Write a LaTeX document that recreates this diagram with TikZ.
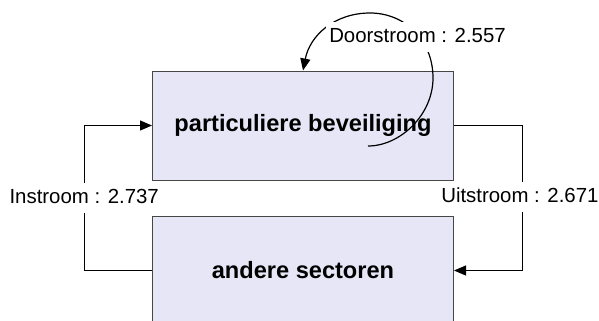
\documentclass[tikz,border=0pt]{standalone}
\usepackage{fontspec}
\setmainfont{Liberation Sans}
\usetikzlibrary{arrows.meta}
\definecolor{boxfill}{RGB}{230,230,246}
\definecolor{boxline}{RGB}{70,70,70}

\begin{document}
\begin{tikzpicture}
        [x=1bp, y=-1bp,
         sector/.style={rectangle, draw=boxline, fill=boxfill, line width=1bp,
                        minimum width=301bp, minimum height=109bp,
                        font=\fontsize{23.6bp}{28bp}\selectfont\bfseries},
         flow/.style={line width=1.2bp, -{Triangle[length=12bp, width=10bp]}},
         flowlabel/.style={fill=white, inner xsep=3bp, inner ysep=5bp,
                        text height=15bp, text depth=5bp,
                        font=\fontsize{20.4bp}{24bp}\selectfont}]
        \path[use as bounding box, clip] (0,0) rectangle (599,320);

        \node[sector] (pb) at (303,125.5) {particuliere beveiliging};
        \node[sector] (sec) at (303,270.5) {andere sectoren};
        \coordinate (ls) at (368,146);

        \draw[flow] (sec.west) -- ++(-67.5,0) |- (pb.west);
        \draw[flow] (pb.east) -- ++(68.5,0) |- (sec.east);
        \draw[flow] (ls) .. controls (400,146) and (433,115) .. (433,78)
                         .. controls (433,40) and (405,13) .. (370,13)
                         .. controls (335,13) and (310,35) .. (pb.north);

        \node[flowlabel] (instr) at (84.2,198) {Instroom : 2.737};
        \node[flowlabel] (uitstr) at (519.9,197) {Uitstroom : 2.671};
        \node[flowlabel] (doorstr) at (417.5,37) {Doorstroom : 2.557};
    \end{tikzpicture}
\end{document}
